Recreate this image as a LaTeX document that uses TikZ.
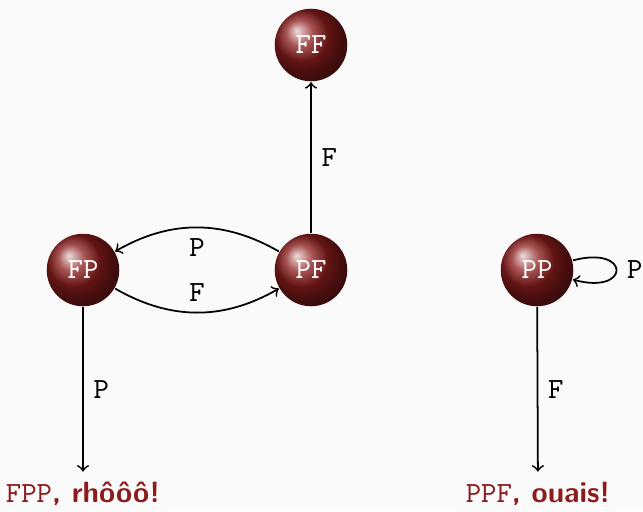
\documentclass[tikz,border=0pt]{standalone}
\usepackage{fontspec}
\usepackage{xcolor}
\definecolor{rouge}{RGB}{140,28,28}
\definecolor{fond}{RGB}{250,250,250}
\tikzset{
	etat/.style={circle,minimum size=0.87cm,inner sep=0pt,ball color=rouge,text=white,font=\ttfamily},
	lbl/.style={font=\ttfamily},
	fin/.style={text=rouge}
}

\begin{document}
\begin{tikzpicture}[x=0.012cm,y=-0.012cm,>=to,semithick]
\fill[fond] (0,0) rectangle (643,511);
\useasboundingbox (0,0) rectangle (643,511);
\node[etat] (FF) at (311,45) {FF};
\node[etat] (PF) at (311,270) {PF};
\node[etat] (FP) at (83,270) {FP};
\node[etat] (PP) at (537,270) {PP};
\node[fin] (FPP) at (83,494) {\texttt{FPP}\textsf{\bfseries, rhôôô!}};
\node[fin] (PPF) at (538,494) {\texttt{PPF}\textsf{\bfseries, ouais!}};

\draw[->] (PF) -- node[lbl,right] {F} (FF);
\draw[->] (PF) to[bend right=30] node[lbl,below] {P} (FP);
\draw[->] (FP) to[bend right=30] node[lbl,above] {F} (PF);
\draw[->] (FP) -- node[lbl,right] {P} (FPP);
\draw[->] (PP) to[loop right] node[lbl,right] {P} (PP);
\draw[->] (PP) -- node[lbl,right] {F} (PPF);
\end{tikzpicture}
\end{document}
